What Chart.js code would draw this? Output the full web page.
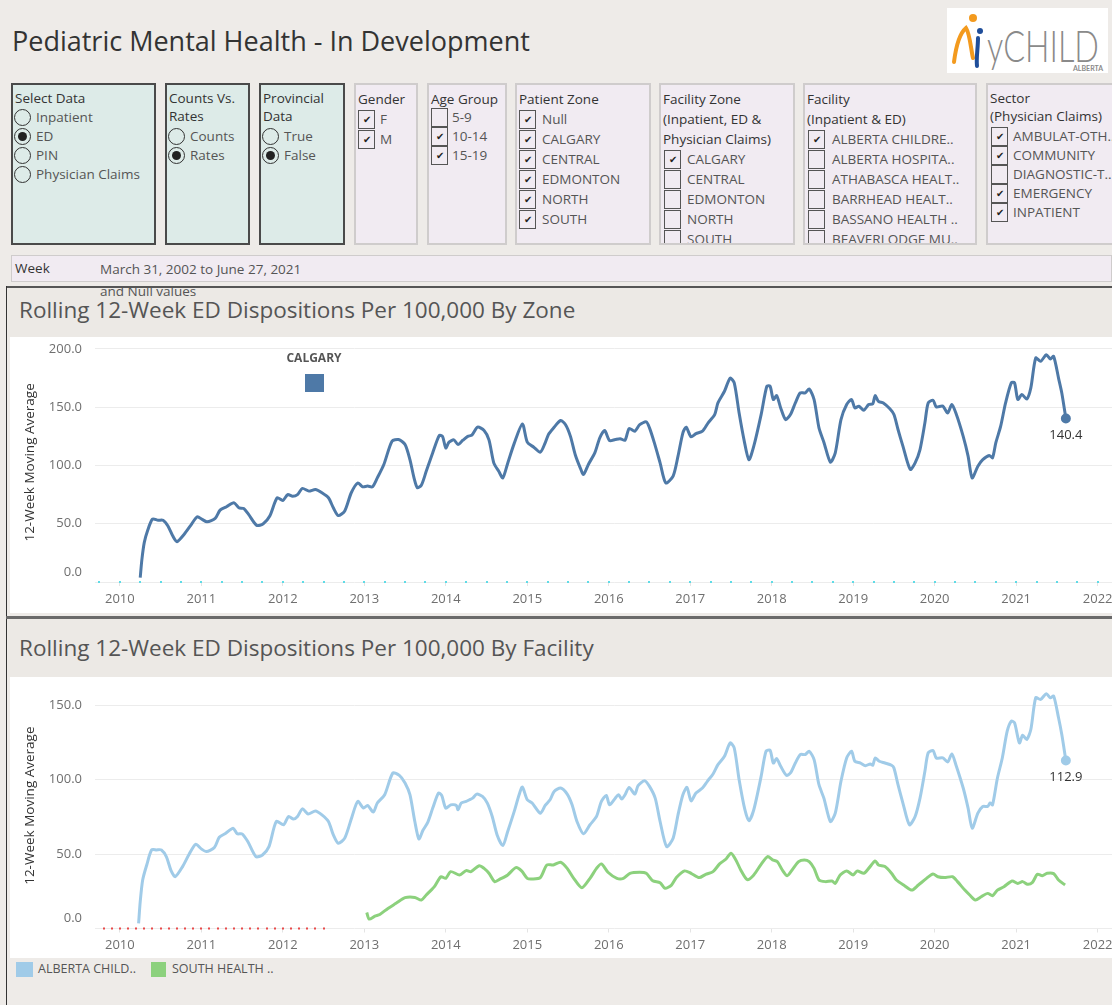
<!DOCTYPE html>
<html>
<head>
<meta charset="utf-8">
<title>Pediatric Mental Health - In Development</title>
<script src="https://cdn.jsdelivr.net/npm/chart.js@4.4.0/dist/chart.umd.min.js"></script>
<style>
  body { margin: 0; width: 1112px; height: 1005px; overflow: hidden; position: relative;
         background: #eeebe8; font-family: "Open Sans", "Noto Sans", sans-serif; color: #333; }
  .abs { position: absolute; }
  .panel { position: absolute; top: 83px; height: 162px; box-sizing: border-box; overflow: hidden; }
  .teal { background: #ddebe8; border: 2px solid #4a4a4a; }
  .lav { background: #f1ebf2; border: 2px solid #cfcccc; }
  .ln { position: absolute; height: 18px; line-height: 18px; white-space: nowrap; }
  .head { color: #333; font-size: 13.5px; }
  .item { color: #555; font-size: 13.5px; }
  .radio { position: absolute; width: 17px; height: 17px; border: 1.5px solid #333; border-radius: 50%; box-sizing: border-box; }
  .radio.on::after { content: ""; position: absolute; left: 2.5px; top: 2.5px; width: 9px; height: 9px; border-radius: 50%; background: #222; }
  .cbox { position: absolute; width: 17px; height: 19px; border: 1.5px solid #555; box-sizing: border-box;
          font-size: 10px; line-height: 16px; text-align: center; color: #222; }
  .title-band { position: absolute; left: 8px; width: 1104px; background: #ece9e5; }
  .white { position: absolute; left: 10px; width: 1102px; background: #ffffff; }
  .ctitle { position: absolute; left: 19px; font-size: 22.5px; color: #555; white-space: nowrap; }
  .chartbox { position: absolute; left: 0; width: 1140px; }
</style>
</head>
<body>

<div class="abs" style="left:12px; top:22px; font-size:27px; color:#333; white-space:nowrap;">Pediatric Mental Health - In Development</div>

<svg class="abs" style="left:947px; top:8px;" width="161" height="65">
  <rect x="0" y="0" width="161" height="65" fill="#ffffff"/>
  <circle cx="26" cy="10" r="4" fill="#f39a1e"/>
  <path d="M7,54 C9,38 13,25 19,20 C23,26 24,42 26,50" fill="none" stroke="#f39a1e" stroke-width="4" stroke-linecap="round"/>
  <path d="M31,30 C31,40 29,50 30,58" fill="none" stroke="#1f4e9a" stroke-width="4" stroke-linecap="round"/>
  <circle cx="33" cy="23" r="3" fill="#1f4e9a"/>
  <text x="40" y="54" font-family="Lato, sans-serif" font-weight="300" font-size="44" fill="#8a8a8a" textLength="112" lengthAdjust="spacingAndGlyphs">yCHILD</text>
  <text x="126" y="63" font-family="Lato, sans-serif" font-weight="700" font-size="7" fill="#8a8a8a">ALBERTA</text>
</svg>

<div id="filters"></div>

<div class="abs" style="left:11px; top:255px; width:1101px; height:27px; background:#f1ebf2; border:1px solid #cfcccc; box-sizing:border-box;"></div>
<div class="abs" style="left:15px; top:259px; font-size:13.5px; color:#333;">Week</div>
<div class="abs" style="left:100px; top:260px; font-size:13.5px; color:#555;">March 31, 2002 to June 27, 2021</div>

<!-- chart 1 frame -->
<div class="abs" style="left:6px; top:286px; width:1106px; height:2px; background:#555;"></div>
<div class="abs" style="left:6px; top:286px; width:1px; height:719px; background:#333;"></div>
<div class="title-band" style="top:288px; height:49px;"></div>
<div class="ctitle" style="top:294px;">Rolling 12-Week ED Dispositions Per 100,000 By Zone</div>
<div class="white" style="top:337px; height:276px;"></div>
<div class="abs" style="left:100px; top:282px; font-size:13.5px; color:#555; z-index:3;">and Null values</div>

<!-- chart 2 frame -->
<div class="abs" style="left:6px; top:616px; width:1106px; height:3px; background:#6a6a6a;"></div>
<div class="title-band" style="top:619px; height:58px;"></div>
<div class="ctitle" style="top:632px;">Rolling 12-Week ED Dispositions Per 100,000 By Facility</div>
<div class="white" style="top:677px; height:281px;"></div>

<div class="chartbox" style="top:322px; height:293px;"><canvas id="zoneChart"></canvas></div>
<div class="chartbox" style="top:662px; height:298px;"><canvas id="facilityChart"></canvas></div>

<!-- zone colour legend inside chart 1 -->
<div class="abs" style="left:279px; top:349px; width:70px; text-align:center; font-size:12px; font-weight:bold; color:#555; z-index:2;">CALGARY</div>
<div class="abs" style="left:305px; top:374px; width:19px; height:18px; background:#4e79a7; z-index:2;"></div>

<!-- facility legend -->
<div class="abs" style="left:16px; top:962px; width:17px; height:15px; background:#a0cbe8;"></div>
<div class="abs" style="left:38px; top:960px; font-size:12.5px; color:#555;">ALBERTA CHILD..</div>
<div class="abs" style="left:151px; top:962px; width:15px; height:15px; background:#8cd17d;"></div>
<div class="abs" style="left:172px; top:960px; font-size:12.5px; color:#555;">SOUTH HEALTH ..</div>

<script>
// ---- filter panel contents ----
const selectDataItems = ['Inpatient', 'ED', 'PIN', 'Physician Claims'];
const countsItems = ['Counts', 'Rates'];
const provincialItems = ['True', 'False'];
const genderItems = ['F', 'M'];
const ageItems = ['5-9', '10-14', '15-19'];
const patientZoneItems = ['Null', 'CALGARY', 'CENTRAL', 'EDMONTON', 'NORTH', 'SOUTH'];
const facilityZoneItems = ['CALGARY', 'CENTRAL', 'EDMONTON', 'NORTH', 'SOUTH'];
const facilityItems = ['ALBERTA CHILDRE..', 'ALBERTA HOSPITA..', 'ATHABASCA HEALT..', 'BARRHEAD HEALT..', 'BASSANO HEALTH ..', 'BEAVERLODGE MU..'];
const sectorItems = ['AMBULAT-OTH..', 'COMMUNITY', 'DIAGNOSTIC-T..', 'EMERGENCY', 'INPATIENT'];

// ---- chart values (x = year, y = 12-week moving average per 100,000) ----
const calgaryWeeks = [2010.25,2010.27,2010.30,2010.34,2010.40,2010.47,2010.53,2010.59,2010.65,2010.70,2010.79,2010.87,2010.95,2011.01,2011.07,2011.17,2011.23,2011.31,2011.40,2011.46,2011.52,2011.58,2011.68,2011.76,2011.84,2011.93,2012.00,2012.06,2012.12,2012.18,2012.24,2012.32,2012.40,2012.48,2012.56,2012.62,2012.68,2012.76,2012.84,2012.92,2012.98,2013.04,2013.10,2013.16,2013.24,2013.34,2013.42,2013.50,2013.56,2013.61,2013.65,2013.70,2013.76,2013.84,2013.92,2013.96,2014.00,2014.04,2014.10,2014.15,2014.21,2014.27,2014.32,2014.39,2014.47,2014.53,2014.59,2014.65,2014.70,2014.76,2014.84,2014.94,2015.00,2015.08,2015.16,2015.22,2015.26,2015.32,2015.41,2015.47,2015.53,2015.59,2015.65,2015.69,2015.75,2015.83,2015.89,2015.95,2016.01,2016.08,2016.14,2016.20,2016.25,2016.32,2016.38,2016.46,2016.50,2016.56,2016.63,2016.70,2016.79,2016.85,2016.91,2016.95,2017.01,2017.07,2017.15,2017.22,2017.30,2017.34,2017.42,2017.49,2017.54,2017.60,2017.66,2017.72,2017.78,2017.87,2017.94,2017.98,2018.02,2018.06,2018.11,2018.17,2018.23,2018.29,2018.35,2018.41,2018.46,2018.52,2018.58,2018.64,2018.72,2018.78,2018.85,2018.92,2018.98,2019.02,2019.07,2019.13,2019.19,2019.24,2019.27,2019.31,2019.37,2019.45,2019.50,2019.55,2019.61,2019.70,2019.76,2019.82,2019.88,2019.92,2019.98,2020.02,2020.10,2020.16,2020.21,2020.26,2020.35,2020.41,2020.46,2020.53,2020.59,2020.67,2020.71,2020.75,2020.81,2020.87,2020.94,2020.98,2021.02,2021.07,2021.13,2021.18,2021.24,2021.30,2021.37,2021.42,2021.46,2021.52,2021.56,2021.61];
const calgaryRate = [3.7,19,34,44,54,53,53,48,39.4,34.6,41,48.6,56,53.7,51.7,54.6,61.7,64.6,68,63.7,63,58,48.6,50,56.6,72.3,70,75,73.7,75,80.3,78,79.4,76.6,72.3,63.7,57,61,76.6,85,81.7,82.3,81.7,89.4,100.9,120.9,122.3,118,105,89.4,81,83,95,111,125.7,125,115,120,122,118,121.7,125,126,132.9,130,122,102,95,89.4,102,119,135.7,120,115.7,111.4,119.4,126.6,132,138.6,135,125,109,98,92.3,100.9,111,123.7,130,121.4,122.3,123,121.7,131.7,129.4,135,137.4,132.3,119.4,102.3,85,90.9,108,128,132.9,124.6,127.4,129.4,136.6,143.7,153.7,163.7,175,170.9,145,122,105,116.6,143.7,168,168,156.6,160,149.4,139.4,143.7,153.7,162.3,162.3,165.7,156.6,132.3,120,102.9,110.9,139.4,152.3,156.6,149.4,150.9,147.4,152.3,152.9,160,155,153.7,148.6,143.7,130.9,116.6,96.6,102.3,113.7,136.6,153.7,156,150.3,150.9,145,152.3,145,125,108,89.4,99.4,105,108.6,106.6,119.4,133.7,153.7,170.9,170.9,156.6,160.9,157,166.6,192.3,189.4,195,191.4,193.7,175,162.3,140.4];

const albertaChildWeeks = [2010.23,2010.25,2010.28,2010.33,2010.39,2010.45,2010.51,2010.57,2010.63,2010.68,2010.77,2010.85,2010.93,2011.00,2011.06,2011.16,2011.22,2011.30,2011.39,2011.44,2011.50,2011.57,2011.67,2011.75,2011.83,2011.92,2012.01,2012.07,2012.13,2012.18,2012.24,2012.31,2012.40,2012.48,2012.56,2012.62,2012.68,2012.76,2012.85,2012.92,2012.99,2013.04,2013.11,2013.16,2013.25,2013.35,2013.43,2013.50,2013.56,2013.62,2013.67,2013.72,2013.78,2013.84,2013.91,2013.95,2014.00,2014.06,2014.13,2014.15,2014.19,2014.25,2014.29,2014.33,2014.38,2014.45,2014.51,2014.57,2014.63,2014.70,2014.76,2014.84,2014.90,2014.94,2015.00,2015.06,2015.16,2015.22,2015.28,2015.33,2015.41,2015.49,2015.55,2015.61,2015.69,2015.77,2015.85,2015.91,2015.97,2016.01,2016.08,2016.12,2016.16,2016.20,2016.25,2016.32,2016.36,2016.44,2016.50,2016.57,2016.63,2016.71,2016.79,2016.85,2016.91,2016.96,2017.01,2017.07,2017.15,2017.21,2017.28,2017.34,2017.42,2017.49,2017.54,2017.60,2017.67,2017.72,2017.78,2017.87,2017.93,2017.98,2018.02,2018.06,2018.11,2018.18,2018.23,2018.29,2018.35,2018.41,2018.46,2018.52,2018.58,2018.64,2018.72,2018.78,2018.85,2018.92,2018.98,2019.02,2019.09,2019.15,2019.21,2019.24,2019.27,2019.32,2019.39,2019.47,2019.50,2019.55,2019.61,2019.69,2019.76,2019.82,2019.88,2019.92,2019.98,2020.02,2020.10,2020.16,2020.21,2020.26,2020.35,2020.41,2020.46,2020.53,2020.59,2020.65,2020.68,2020.71,2020.77,2020.83,2020.89,2020.94,2020.98,2021.04,2021.08,2021.13,2021.18,2021.24,2021.30,2021.37,2021.42,2021.46,2021.52,2021.56,2021.61];
const albertaChildRate = [3.4,18,32.6,42.7,52.8,52.8,52.8,48.3,38.7,34.8,41.6,49.9,56.6,53.5,51.7,54.4,61.3,64,67.4,63.6,63.6,58.4,48.3,49.4,55,71.9,69.7,75.3,73.5,75.3,80.4,77,79,76.4,71.9,62.9,57.3,60.7,75.3,85.4,80.9,82.7,78.2,84.3,89.9,104.5,102.9,97.8,89.9,71.9,60.2,66,71.5,80.9,91,89.4,80.9,83.1,82.7,79.8,84.3,85.4,86.5,87.6,90.3,88.8,84.3,75.3,62.9,55.7,65.2,78.7,89.9,95,86.5,84.3,77.5,82.7,86.5,92.1,94.4,90.3,83.1,71.9,63.6,69.7,75.3,85.4,89.4,83.1,87.6,89.9,87,89.9,94.8,90.3,96,99.3,95.5,87.6,71.9,55,60.7,76.4,89.9,94.8,85.8,91,94.4,98.9,103.8,110.1,115.7,124.7,121.3,100,80,72.4,79.8,102.2,119.1,119.8,111.2,114.2,109,102.9,104.5,111.2,116.9,116.9,119.1,113.5,96.6,87.6,71.9,77.5,98.9,114.6,119.1,112.4,111.2,109.4,110.6,109.7,114.6,112.4,111.2,109.7,107.9,96.6,84.3,69.7,75.3,87.6,105.6,118,119.6,114.6,114.6,111.9,117.3,110.1,94.4,80.9,67.4,77.5,82,82,84.3,83.1,101.1,114.6,132.6,139.3,138.2,124.7,129.9,127,133.7,155,153.9,157.8,155,156.2,141.6,130.3,112.9];

const southHealthWeeks = [2013.03,2013.06,2013.13,2013.19,2013.29,2013.39,2013.50,2013.62,2013.70,2013.76,2013.82,2013.86,2013.94,2014.00,2014.06,2014.17,2014.25,2014.31,2014.41,2014.47,2014.53,2014.60,2014.67,2014.76,2014.86,2014.93,2015.00,2015.06,2015.16,2015.24,2015.32,2015.41,2015.49,2015.57,2015.67,2015.77,2015.85,2015.91,2015.99,2016.10,2016.18,2016.26,2016.38,2016.46,2016.54,2016.63,2016.69,2016.77,2016.83,2016.93,2017.01,2017.11,2017.19,2017.28,2017.36,2017.44,2017.50,2017.56,2017.62,2017.70,2017.78,2017.87,2017.95,2018.01,2018.07,2018.13,2018.19,2018.25,2018.33,2018.40,2018.46,2018.52,2018.58,2018.66,2018.74,2018.78,2018.84,2018.92,2019.00,2019.05,2019.13,2019.19,2019.27,2019.31,2019.39,2019.47,2019.53,2019.63,2019.72,2019.80,2019.90,2019.98,2020.04,2020.12,2020.22,2020.28,2020.37,2020.43,2020.50,2020.57,2020.65,2020.71,2020.77,2020.85,2020.95,2021.02,2021.08,2021.14,2021.20,2021.26,2021.32,2021.38,2021.46,2021.52,2021.60];
const southHealthRate = [10.8,6.3,8.3,9.4,13.5,16.9,20.7,20.9,19.1,22.5,25.8,28.1,34.8,33.7,38.2,36,38.9,38.2,42.2,40.4,37.1,31.5,33.3,36,40.9,38.7,33.7,33.3,34.2,42.7,42.7,44.5,40.4,33.7,27.4,33.7,40.4,43.4,37.8,33.7,33.7,37.1,37.8,37.1,32.1,30.8,27,29.2,34.2,38.7,37.1,34.2,36.4,38.2,43.4,46.7,50.6,46.1,39.3,32.8,36,43.1,48.3,46.1,44.9,39.3,35.5,39.3,44.9,46.1,44.9,40.4,32.6,31.5,31.9,30.3,36,38.7,36,38.7,37.1,40.4,45.4,42.7,41.6,37.1,32.6,28.8,25.8,29.2,33.7,36.6,34.8,34.2,34.8,31.5,25.8,22.5,19.1,21.3,23.6,22,25.8,28.1,31.9,30.3,31.5,29.7,31,36.4,35.5,37.1,36.9,32.6,29.2];

const yearTicksFrom = 2010;

// ---- build the filter panels ----
const filterPanels = [
  { x: 11,  w: 145, teal: true, kind: 'radio', head: ['Select Data'], headY: [98], items: selectDataItems, itemY: 117, step: 19, on: ['ED'], boxX: 1, textX: 23 },
  { x: 165, w: 85,  teal: true, kind: 'radio', head: ['Counts Vs.', 'Rates'], headY: [98, 116], items: countsItems, itemY: 136, step: 19, on: ['Rates'], boxX: 1, textX: 23 },
  { x: 259, w: 86,  teal: true, kind: 'radio', head: ['Provincial', 'Data'], headY: [98, 116], items: provincialItems, itemY: 136, step: 19, on: ['False'], boxX: 1, textX: 23 },
  { x: 354, w: 64,  kind: 'check', head: ['Gender'], headY: [99], items: genderItems, itemY: 119, step: 20, on: ['F', 'M'], boxX: 2, textX: 24 },
  { x: 427, w: 80,  kind: 'check', head: ['Age Group'], headY: [99], items: ageItems, itemY: 117, step: 19, on: ['10-14', '15-19'], boxX: 2, textX: 23 },
  { x: 515, w: 136, kind: 'check', head: ['Patient Zone'], headY: [99], items: patientZoneItems, itemY: 119, step: 20, on: patientZoneItems, boxX: 2, textX: 25 },
  { x: 659, w: 136, kind: 'check', head: ['Facility Zone', '(Inpatient, ED &', 'Physician Claims)'], headY: [99, 119, 139], items: facilityZoneItems, itemY: 159, step: 20, on: ['CALGARY'], boxX: 3, textX: 26 },
  { x: 803, w: 174, kind: 'check', head: ['Facility', '(Inpatient & ED)'], headY: [99, 119], items: facilityItems, itemY: 139, step: 20, on: ['ALBERTA CHILDRE..'], boxX: 3, textX: 27 },
  { x: 986, w: 130, kind: 'check', head: ['Sector', '(Physician Claims)'], headY: [98, 116], items: sectorItems, itemY: 136, step: 19, on: ['AMBULAT-OTH..', 'COMMUNITY', 'EMERGENCY', 'INPATIENT'], boxX: 3, textX: 25 }
];

const holder = document.getElementById('filters');
filterPanels.forEach(function (p) {
  const panel = document.createElement('div');
  panel.className = 'panel ' + (p.teal ? 'teal' : 'lav');
  panel.style.left = p.x + 'px';
  panel.style.width = p.w + 'px';
  p.head.forEach(function (h, i) {
    const t = document.createElement('div');
    t.className = 'ln head';
    t.style.left = '2px';
    t.style.top = (p.headY[i] - 85 - 9) + 'px';
    t.textContent = h;
    panel.appendChild(t);
  });
  p.items.forEach(function (it, i) {
    const cy = p.itemY + i * p.step - 85;
    const mark = document.createElement('div');
    const isOn = p.on.indexOf(it) >= 0;
    if (p.kind === 'radio') {
      mark.className = 'radio' + (isOn ? ' on' : '');
      mark.style.top = (cy - 8) + 'px';
    } else {
      mark.className = 'cbox';
      mark.style.top = (cy - 9) + 'px';
      mark.textContent = isOn ? '\u2714' : '';
    }
    mark.style.left = p.boxX + 'px';
    panel.appendChild(mark);
    const t = document.createElement('div');
    t.className = 'ln item';
    t.style.left = p.textX + 'px';
    t.style.top = (cy - 9) + 'px';
    t.textContent = it;
    panel.appendChild(t);
  });
  holder.appendChild(panel);
});

// ---- chart helpers ----
function toPoints(xs, ys) {
  return xs.map(function (x, i) { return { x: x, y: ys[i] }; });
}

const tickFont = { size: 13, family: '"Open Sans", "Noto Sans", sans-serif' };

// dotted marks along the x axis (null markers)
const nullDotsPlugin = {
  id: 'nullDots',
  afterDatasetsDraw(chart, args, opts) {
    const xs = chart.scales.x;
    const y0 = chart.chartArea.bottom;
    const ctx = chart.ctx;
    ctx.save();
    ctx.fillStyle = opts.color;
    for (let v = opts.from; v <= opts.to + 1e-6; v += opts.step) {
      const px = xs.getPixelForValue(v);
      ctx.fillRect(Math.round(px) - 1, y0 - 1, 2, 2);
    }
    ctx.restore();
  }
};

// value label under the last point, and the lifted "0.0" axis label
const labelsPlugin = {
  id: 'extraLabels',
  afterDatasetsDraw(chart) {
    const ctx = chart.ctx;
    const ys = chart.scales.y;
    ctx.save();
    ctx.font = '13px "Open Sans", "Noto Sans", sans-serif';
    ctx.fillStyle = '#6f6f6f';
    ctx.textAlign = 'right';
    ctx.textBaseline = 'middle';
    ctx.fillText((0).toFixed(1), chart.chartArea.left - 13, ys.getPixelForValue(0) - 10);
    ctx.restore();
    chart.data.datasets.forEach(function (ds, i) {
      if (!ds.endLabel) return;
      const meta = chart.getDatasetMeta(i);
      const last = meta.data[meta.data.length - 1];
      const val = ds.data[ds.data.length - 1].y;
      ctx.save();
      ctx.font = '13px "Open Sans", "Noto Sans", sans-serif';
      ctx.fillStyle = '#333';
      ctx.textAlign = 'center';
      ctx.textBaseline = 'middle';
      ctx.fillText(val.toFixed(1), last.x, last.y + 17);
      ctx.restore();
    });
  }
};

function lastPointRadius(ctx) {
  return ctx.dataIndex === ctx.dataset.data.length - 1 ? 3.5 : 0;
}

function makeOptions(yMax, xHeight, dots) {
  return {
    responsive: true,
    maintainAspectRatio: false,
    animation: false,
    layout: { padding: { top: 4, left: 0, right: 0, bottom: 0 } },
    plugins: {
      legend: { display: false },
      tooltip: { enabled: false },
      nullDots: dots
    },
    scales: {
      x: {
        type: 'linear',
        min: 2009.695,
        max: 2022.44,
        afterFit: function (s) { s.height = xHeight; },
        border: { display: false },
        grid: { drawOnChartArea: false, color: '#e4e4e4', tickLength: 4 },
        ticks: {
          stepSize: 1,
          includeBounds: false,
          autoSkip: false,
          maxRotation: 0,
          padding: 5,
          color: '#6f6f6f',
          font: tickFont,
          callback: function (v) { return Number.isInteger(v) && v >= yearTicksFrom ? String(v) : ''; }
        }
      },
      y: {
        min: 0,
        max: yMax,
        afterFit: function (s) { s.width = 95; },
        border: { display: false },
        grid: { color: '#ececec', drawTicks: false },
        title: {
          display: true,
          text: '12-Week Moving Average',
          color: '#333',
          padding: { top: 22, bottom: 0 },
          font: { size: 13.5, family: '"Open Sans", "Noto Sans", sans-serif' }
        },
        ticks: {
          stepSize: 50,
          includeBounds: false,
          padding: 13,
          color: '#6f6f6f',
          font: tickFont,
          callback: function (v) { return v === 0 ? '' : v.toFixed(1); }
        }
      }
    }
  };
}

// chart 1: by zone
new Chart(document.getElementById('zoneChart'), {
  type: 'line',
  data: {
    datasets: [{
      label: 'CALGARY',
      data: toPoints(calgaryWeeks, calgaryRate),
      borderColor: '#4e79a7',
      backgroundColor: '#4e79a7',
      borderWidth: 3,
      tension: 0.25,
      pointRadius: lastPointRadius,
      pointHoverRadius: 0,
      endLabel: true
    }]
  },
  options: makeOptions(205.3, 33, { color: '#5fdbe6', from: 2009.75, to: 2022.25, step: 0.25 }),
  plugins: [nullDotsPlugin, labelsPlugin]
});

// chart 2: by facility
new Chart(document.getElementById('facilityChart'), {
  type: 'line',
  data: {
    datasets: [{
      label: 'ALBERTA CHILD..',
      data: toPoints(albertaChildWeeks, albertaChildRate),
      borderColor: '#a0cbe8',
      backgroundColor: '#a0cbe8',
      borderWidth: 3,
      tension: 0.25,
      pointRadius: lastPointRadius,
      pointHoverRadius: 0,
      endLabel: true
    }, {
      label: 'SOUTH HEALTH ..',
      data: toPoints(southHealthWeeks, southHealthRate),
      borderColor: '#8cd17d',
      backgroundColor: '#8cd17d',
      borderWidth: 3,
      tension: 0.25,
      pointRadius: 0,
      pointHoverRadius: 0
    }]
  },
  options: makeOptions(165.1, 31.5, { color: '#e84a4a', from: 2009.8, to: 2012.5, step: 0.1 }),
  plugins: [nullDotsPlugin, labelsPlugin]
});
</script>
</body>
</html>
